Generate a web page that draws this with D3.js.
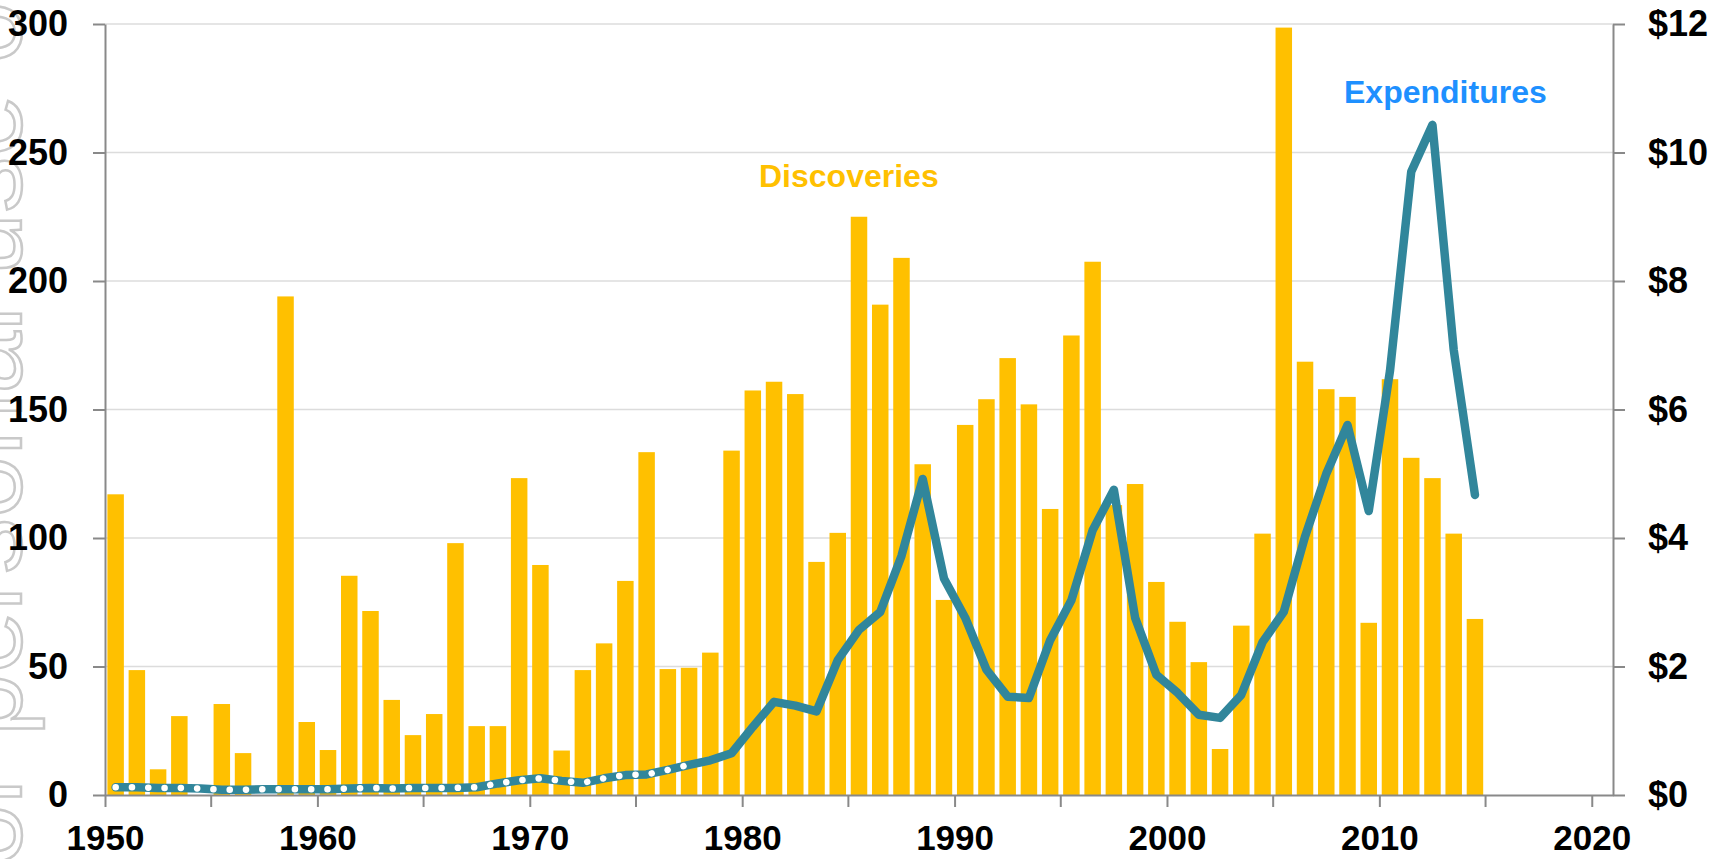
<!DOCTYPE html>
<html>
<head>
<meta charset="utf-8">
<script src="https://cdn.jsdelivr.net/npm/d3@7/dist/d3.min.js"></script>
<style>
  html, body { margin: 0; padding: 0; background: #fff; }
  svg { display: block; font-family: "Liberation Sans", Arial, Helvetica, sans-serif; }
</style>
</head>
<body>
<div id="chart"></div>
<script>
(function () {
  'use strict';

  // Years 1950..2014, one bar and one line point per year
  var years = d3.range(1950, 2015);

  // Discoveries (left axis, count)
  var discoveries = [
    117, 48.6, 10, 30.7, 0, 35.4, 16.3, 0, 194, 28.4,
    17.5, 85.3, 71.6, 37, 23.3, 31.5, 98, 26.8, 26.8, 123.3,
    89.5, 17.3, 48.6, 59, 83.3, 133.4, 49, 49.5, 55.4, 134,
    157.4, 160.8, 156, 90.7, 102, 225, 190.8, 209, 128.7, 75.9,
    144, 154, 170, 152, 111.3, 178.8, 207.5, 112.8, 121, 82.9,
    67.4, 51.7, 17.9, 65.9, 101.7, 298.6, 168.6, 157.9, 154.9, 67,
    161.8, 131.2, 123.3, 101.7, 68.5
  ];

  // Expenditures (right axis, $bn)
  var expenditures = [
    0.12, 0.12, 0.11, 0.11, 0.10, 0.08, 0.08, 0.09, 0.09, 0.09,
    0.09, 0.10, 0.11, 0.10, 0.11, 0.11, 0.11, 0.12, 0.18, 0.23,
    0.26, 0.22, 0.19, 0.26, 0.31, 0.32, 0.39, 0.47, 0.54, 0.65,
    1.06, 1.45, 1.39, 1.30, 2.10, 2.57, 2.85, 3.72, 4.92, 3.37,
    2.76, 1.95, 1.53, 1.51, 2.41, 3.03, 4.12, 4.75, 2.76, 1.87,
    1.59, 1.25, 1.20, 1.56, 2.38, 2.85, 4.02, 5.00, 5.76, 4.42,
    6.60, 9.70, 10.43, 6.93, 4.67
  ];
  var estimatedUntil = 1977; // dotted (estimated) part of the line

  var leftTicks  = [0, 50, 100, 150, 200, 250, 300];
  var rightTicks = [0, 2, 4, 6, 8, 10, 12];
  var yearTicks  = d3.range(1950, 2021, 10);
  var minorYearTicks = d3.range(1955, 2021, 10);

  var W = 1725, H = 859;
  var left = 105, right = 1613, top = 24, bottom = 795;

  var gold = '#FFC000', teal = '#31869B', blue = '#1E90FF';
  var axisGray = '#898989', gridGray = '#dcdcdc';

  var x  = d3.scaleLinear().domain([1950, 2021]).range([left, right]);
  var yL = d3.scaleLinear().domain([0, 300]).range([bottom, top]);
  var yR = d3.scaleLinear().domain([0, 12]).range([bottom, top]);

  var svg = d3.select('#chart').append('svg')
    .attr('width', W).attr('height', H)
    .attr('viewBox', [0, 0, W, H]);

  // faint outlined watermark on the left edge, mostly clipped
  svg.append('text')
    .attr('transform', 'translate(21,935) rotate(-90)')
    .attr('font-size', 112)
    .attr('fill', '#fff')
    .attr('stroke', '#c9c9c9')
    .attr('stroke-width', 2.5)
    .text('For personal use only');

  // gridlines
  svg.append('g')
    .selectAll('line')
    .data(leftTicks.slice(1))
    .join('line')
    .attr('x1', left).attr('x2', right)
    .attr('y1', function (d) { return yL(d); })
    .attr('y2', function (d) { return yL(d); })
    .attr('stroke', gridGray)
    .attr('stroke-width', 1.5);

  // bars
  var barW = 16.5;
  svg.append('g')
    .selectAll('rect')
    .data(years.map(function (yr, i) { return { year: yr, v: discoveries[i] }; })
      .filter(function (d) { return d.v > 0; }))
    .join('rect')
    .attr('x', function (d) { return x(d.year + 0.5) - barW / 2; })
    .attr('width', barW)
    .attr('y', function (d) { return yL(d.v); })
    .attr('height', function (d) { return yL(0) - yL(d.v); })
    .attr('fill', gold);

  // expenditures line
  var pts = years.map(function (yr, i) { return { year: yr, v: expenditures[i] }; });
  var line = d3.line()
    .x(function (d) { return x(d.year + 0.5); })
    .y(function (d) { return yR(d.v); });

  svg.append('path')
    .datum(pts)
    .attr('d', line)
    .attr('fill', 'none')
    .attr('stroke', teal)
    .attr('stroke-width', 8.5)
    .attr('stroke-linejoin', 'round')
    .attr('stroke-linecap', 'round');

  svg.append('path')
    .datum(pts.filter(function (d) { return d.year <= estimatedUntil; }))
    .attr('d', line)
    .attr('fill', 'none')
    .attr('stroke', '#fff')
    .attr('stroke-width', 6.5)
    .attr('stroke-linecap', 'round')
    .attr('stroke-dasharray', '0.1 16.2');

  // axes
  function styleAxis(size) {
    return function (g) {
      g.select('.domain').attr('stroke', axisGray).attr('stroke-width', 2);
      g.selectAll('.tick line').attr('stroke', axisGray).attr('stroke-width', 2);
      g.selectAll('.tick text')
        .attr('fill', '#000')
        .attr('font-size', size)
        .attr('font-weight', 'bold')
        .attr('font-family', '"Liberation Sans", Arial, sans-serif');
    };
  }

  svg.append('g')
    .attr('transform', 'translate(' + left + ',0)')
    .call(d3.axisLeft(yL).tickValues(leftTicks).tickSize(12).tickPadding(25).tickSizeOuter(0))
    .call(styleAxis(36));

  svg.append('g')
    .attr('transform', 'translate(' + right + ',0)')
    .call(d3.axisRight(yR).tickValues(rightTicks).tickSize(12).tickPadding(23).tickSizeOuter(0)
      .tickFormat(function (d) { return '$' + d; }))
    .call(styleAxis(36));

  svg.append('g')
    .attr('transform', 'translate(0,' + bottom + ')')
    .call(d3.axisBottom(x).tickValues(yearTicks).tickSize(12).tickPadding(18).tickSizeOuter(0)
      .tickFormat(d3.format('d')))
    .call(styleAxis(35));

  // unlabelled half-decade ticks
  svg.append('g')
    .selectAll('line')
    .data(minorYearTicks)
    .join('line')
    .attr('x1', function (d) { return x(d); })
    .attr('x2', function (d) { return x(d); })
    .attr('y1', bottom).attr('y2', bottom + 12)
    .attr('stroke', axisGray)
    .attr('stroke-width', 2);

  // series labels
  svg.append('text')
    .attr('x', 759).attr('y', 187)
    .attr('fill', gold)
    .attr('font-size', 32).attr('font-weight', 'bold')
    .text('Discoveries');

  svg.append('text')
    .attr('x', 1344).attr('y', 103)
    .attr('fill', blue)
    .attr('font-size', 32).attr('font-weight', 'bold')
    .text('Expenditures');
})();
</script>
</body>
</html>
